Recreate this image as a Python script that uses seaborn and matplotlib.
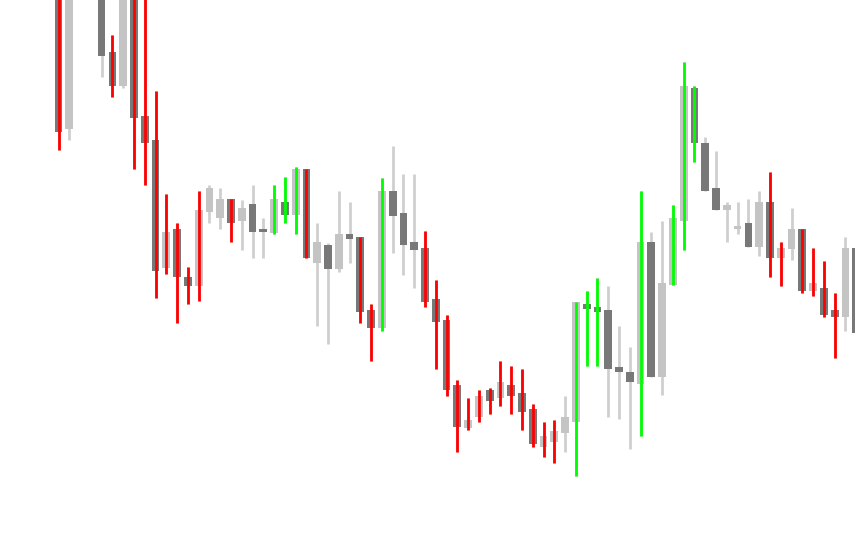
import numpy as np
import pandas as pd
import matplotlib
matplotlib.use("Agg")
import matplotlib.pyplot as plt
import seaborn as sns

# Candle OHLC values (price units), one per bar
opens = [564, 405, 600, 570, 544, 482, 448, 549, 418, 394,
         266, 305, 257, 248, 322, 316, 335, 313, 330, 305,
         301, 332, 319, 365, 271, 289, 265, 300, 297, 224,
         206, 343, 321, 292, 286, 235, 214, 149, 106, 117,
         144, 136, 149, 141, 125, 87, 92, 101, 112, 230,
         227, 224, 167, 162, 150, 292, 157, 249, 313, 446,
         391, 346, 324, 305, 311, 287, 332, 276, 285, 305,
         243, 246, 224, 217, 286]
highs = [574, 564, 610, 620, 554, 499, 560, 559, 544, 443,
         340, 311, 267, 343, 349, 346, 335, 334, 349, 316,
         349, 357, 367, 365, 311, 291, 343, 332, 297, 230,
         356, 388, 360, 360, 303, 254, 219, 154, 136, 144,
         146, 173, 168, 165, 130, 112, 114, 138, 232, 243,
         256, 248, 208, 187, 343, 302, 313, 329, 472, 448,
         397, 383, 332, 332, 335, 343, 362, 292, 326, 305,
         286, 273, 241, 297, 292]
lows = [384, 394, 560, 560, 457, 437, 446, 365, 349, 236,
        260, 211, 230, 233, 311, 305, 292, 284, 276, 276,
        300, 311, 300, 276, 208, 190, 262, 271, 211, 173,
        203, 281, 259, 246, 227, 165, 138, 82, 104, 112,
        120, 128, 120, 104, 87, 77, 71, 82, 58, 168,
        168, 117, 115, 85, 98, 157, 139, 249, 284, 372,
        343, 324, 292, 300, 287, 278, 257, 248, 274, 241,
        238, 217, 176, 203, 196]
closes = [402, 554, 570, 610, 478, 448, 554, 416, 391, 263,
          302, 257, 248, 324, 346, 335, 311, 326, 302, 302.5,
          335, 319, 365, 276, 292, 265, 300, 295, 222, 206,
          343, 318, 289, 284, 232, 212, 144, 107, 114, 138,
          133, 152, 138, 122, 90, 98, 103, 117, 232, 225,
          222, 165, 162, 152, 292, 157, 251, 316, 448, 391,
          343, 324, 329, 308, 287, 332, 276, 286, 305, 243,
          251, 219, 217, 286, 201]

# Signal bars: "r" = red, "g" = green, "" = none
signal = ["r", "", "", "", "", "r", "", "r", "r", "r",
          "r", "r", "r", "r", "", "", "r", "", "", "",
          "g", "g", "g", "r", "", "", "", "", "r", "r",
          "g", "", "", "", "r", "r", "r", "r", "r", "r",
          "r", "r", "r", "r", "r", "r", "r", "", "g", "g",
          "g", "", "", "", "g", "", "", "g", "g", "g",
          "", "", "", "", "", "", "r", "r", "", "r",
          "r", "r", "r", "", ""]

df = pd.DataFrame({"open": opens, "high": highs, "low": lows,
                   "close": closes, "signal": signal})
df["idx"] = np.arange(len(df))

sns.set_theme(style="white")

fig = plt.figure(figsize=(8.55, 5.34), dpi=100)
ax = fig.add_axes([0, 0, 1, 1])

DARK = "#787878"
LIGHT = "#c4c4c4"
WICK = "#cfcfcf"
RED = "#ff0000"
GREEN = "#00ff00"

# wicks
ax.vlines(df["idx"], df["low"], df["high"], color=WICK, lw=2.0, zorder=1)

# bodies
up = df["close"] >= df["open"]
bottoms = np.minimum(df["open"], df["close"])
heights = np.maximum(np.abs(df["close"] - df["open"]), 2.5)
colors = np.where(up, LIGHT, DARK)
ax.bar(df["idx"], heights, bottom=bottoms, width=0.72, color=colors,
       linewidth=0, zorder=2)

# signal lines
for code, col in (("r", RED), ("g", GREEN)):
    s = df[df["signal"] == code]
    ax.vlines(s["idx"], s["low"], s["high"], color=col, lw=2.0, zorder=3)

ax.set_xlim(-5.427, 73.89)
ax.set_ylim(0, 534)
ax.axis("off")
sns.despine(ax=ax, left=True, bottom=True)

fig.savefig("out.png", dpi=100, facecolor="white")
